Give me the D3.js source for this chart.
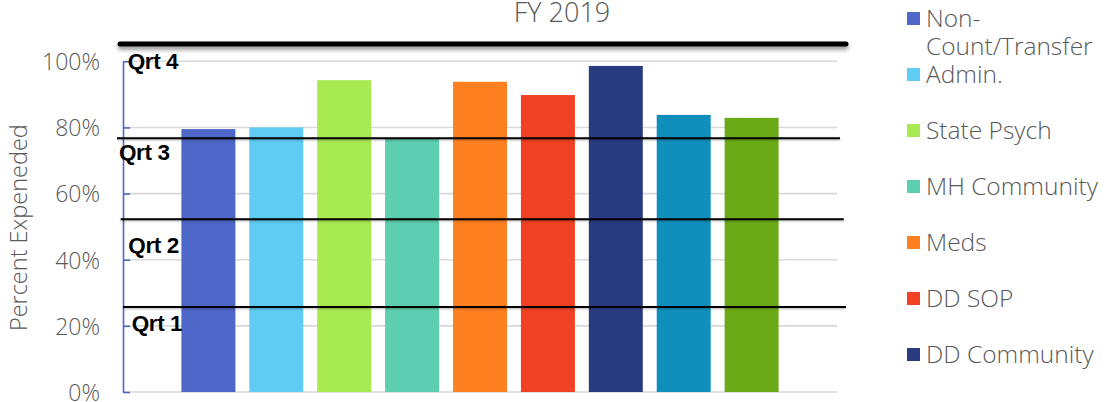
<!DOCTYPE html>
<html>
<head>
<meta charset="utf-8">
<script src="https://cdn.jsdelivr.net/npm/d3@7"></script>
<style>
  html, body { margin: 0; padding: 0; background: #fff; }
  svg { display: block; }
  .txt { font-family: "Open Sans", "Noto Sans", sans-serif; fill: #595959; font-weight: 300; }
  .qrt { font-family: "Liberation Sans", Arial, sans-serif; font-weight: 700; fill: #000; }
</style>
</head>
<body>
<div id="chart"></div>
<script>
// Data
const seriesNames = ['Non-Count/Transfer', 'Admin.', 'State Psych', 'MH Community', 'Meds',
                     'DD SOP', 'DD Community', 'Series 8', 'Series 9'];
const pctSpent    = [79.5, 80.0, 94.3, 76.5, 93.8, 89.8, 98.6, 83.8, 82.9];
const colors      = ['#4e67c8', '#5eccf3', '#a7ea52', '#5dceaf', '#ff8021',
                     '#f14124', '#283b80', '#118fbc', '#6aaa17'];
const yTicks      = [0, 20, 40, 60, 80, 100];

// Quarter marker lines (drawn shapes on top of the chart), in percent
const quarterNames  = ['Qrt 1', 'Qrt 2', 'Qrt 3', 'Qrt 4'];
const quarterLineAt = [25.7, 52.2, 76.7, 105.2];
const quarterTextAt = [18.5, 42.1, 70.1, 97.6];

const title = 'FY 2019';
const yTitle = 'Percent Expeneded';

const W = 1110, H = 402;
const plot = { left: 123, right: 837, top: 61.3, bottom: 392 };

const svg = d3.select('#chart').append('svg')
  .attr('width', W).attr('height', H);

// shadows in user space: a flat line has a zero-height bbox
const defs = svg.append('defs');
function mkShadow(id, dy, blur, col) {
  defs.append('filter').attr('id', id).attr('filterUnits', 'userSpaceOnUse')
    .attr('x', 0).attr('y', 0).attr('width', W).attr('height', H)
    .append('feDropShadow').attr('dx', 0).attr('dy', dy).attr('stdDeviation', blur)
    .attr('flood-color', col);
}
mkShadow('shadow', 3, 2, 'rgba(0,0,0,0.45)');
mkShadow('shadow-thin', 1, 0.8, 'rgba(0,0,0,0.3)');

const x = d3.scaleBand().domain(seriesNames)
  .range([plot.left, plot.right]).paddingInner(0.205).paddingOuter(0.86);
const y = d3.scaleLinear().domain([0, 100]).range([plot.bottom, plot.top]);

// gridlines
svg.append('g').selectAll('line').data(yTicks).join('line')
  .attr('x1', plot.left).attr('x2', plot.right)
  .attr('y1', d => y(d)).attr('y2', d => y(d))
  .attr('stroke', '#d9d9d9').attr('stroke-width', 1.6);

// bars
svg.append('g').selectAll('rect').data(seriesNames).join('rect')
  .attr('x', d => x(d))
  .attr('width', x.bandwidth())
  .attr('y', (d, i) => y(pctSpent[i]))
  .attr('height', (d, i) => y(0) - y(pctSpent[i]))
  .attr('fill', (d, i) => colors[i]);

// y axis
const yAxis = svg.append('g').attr('transform', `translate(${plot.left},0)`)
  .call(d3.axisLeft(y).tickValues(yTicks).tickFormat(d => d + '%')
    .tickSizeInner(-7).tickSizeOuter(0).tickPadding(23));
yAxis.select('.domain').attr('stroke', '#4e67c8').attr('stroke-width', 1.6);
yAxis.selectAll('.tick line').attr('stroke', '#4e67c8').attr('stroke-width', 1.6);
yAxis.selectAll('.tick text').attr('class', 'txt').attr('font-size', 23).attr('dy', '0.36em');

// axis title
svg.append('text').attr('class', 'txt')
  .attr('transform', `translate(27,${(plot.top + plot.bottom) / 2 + 1}) rotate(-90)`)
  .attr('text-anchor', 'middle').attr('font-size', 23.5)
  .text(yTitle);

// chart title
svg.append('text').attr('class', 'txt')
  .attr('x', 562).attr('y', 22).attr('text-anchor', 'middle').attr('font-size', 27)
  .text(title);

// quarter lines
const qEnds = [[123, 846], [120.7, 843.7], [117, 840], [120, 846]];
const qNudge = [8.7, 5.3, -4, 4.7];
quarterLineAt.forEach((v, i) => {
  const last = i === quarterLineAt.length - 1;
  svg.append('line')
    .attr('x1', qEnds[i][0]).attr('x2', qEnds[i][1])
    .attr('y1', y(v)).attr('y2', y(v))
    .attr('stroke', '#000')
    .attr('stroke-width', last ? 5 : 2)
    .attr('stroke-linecap', last ? 'round' : 'butt')
    .attr('filter', last ? 'url(#shadow)' : 'url(#shadow-thin)');
  svg.append('text').attr('class', 'qrt')
    .attr('x', plot.left + qNudge[i]).attr('y', y(quarterTextAt[i]))
    .attr('font-size', 22.5).attr('letter-spacing', -0.4)
    .text(quarterNames[i]);
});

// legend
const leg = svg.append('g').attr('transform', 'translate(907,12)');
const item = leg.selectAll('g').data(seriesNames).join('g')
  .attr('transform', (d, i) => `translate(0,${i * 56})`);
item.append('rect').attr('width', 13).attr('height', 13)
  .attr('fill', (d, i) => colors[i]);
item.each(function(d) {
  const lines = d.replace(/-(?=.)/, '-\n').split('\n');
  const t = d3.select(this).append('text').attr('class', 'txt').attr('font-size', 24.5);
  lines.forEach((s, j) => {
    t.append('tspan').attr('x', 19).attr('y', 6.5 + j * 28).attr('dy', '0.36em').text(s);
  });
});
</script>
</body>
</html>
